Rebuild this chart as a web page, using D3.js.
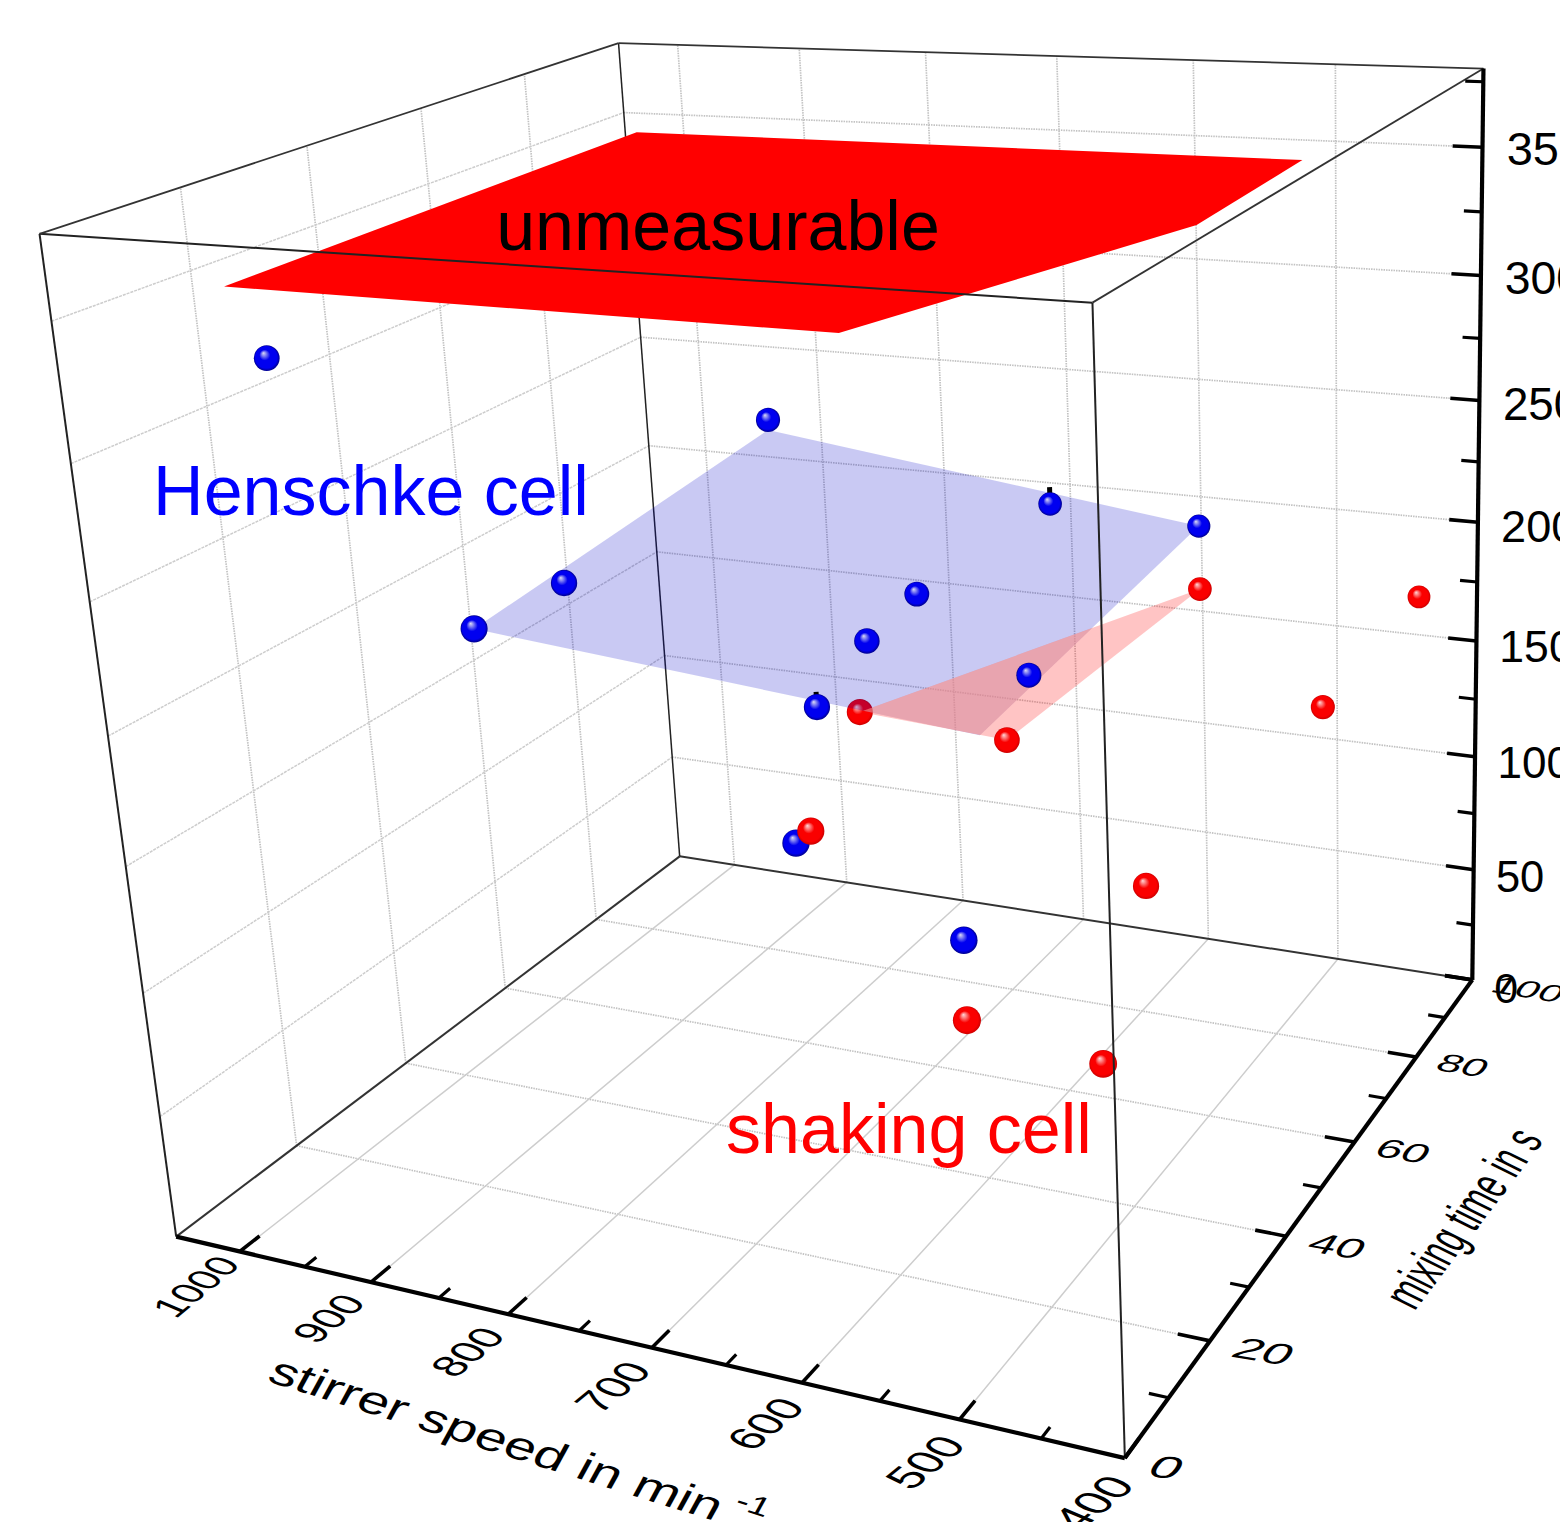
<!DOCTYPE html>
<html>
<head>
<meta charset="utf-8">
<script src="https://cdn.jsdelivr.net/npm/d3@7"></script>
<style>
body { margin: 0; background: #fff; overflow: hidden; }
svg text { font-family: "Liberation Sans", Arial, sans-serif; }
</style>
</head>
<body>
<svg id="chart" width="1560" height="1522"></svg>
<script>
// tick values
var speedTicks = [1000, 900, 800, 700, 600, 500, 400];
var speedMinor = [950, 850, 750, 650, 550, 450];
var timeTicks = [0, 20, 40, 60, 80, 100];
var timeMinor = [10, 30, 50, 70, 90];
var levelTicks = [0, 50, 100, 150, 200, 250, 300, 350];
var levelMinor = [25, 75, 125, 175, 225, 275, 325, 375];

// Henschke cell
var blueSpeed = [1000, 700, 600, 500, 700, 900, 1000, 700, 600, 800, 800, 600];
var blueTime = [20, 32.4, 60, 60, 60.9, 43.7, 49.5, 49.5, 53.6, 66.8, 60.4, 36.6];
var blueLevel = [319.9, 298.2, 242, 239, 199.5, 212.8, 180.4, 195.1, 183, 138, 88.3, 103.4];
var blueStub = [0, 0, 1, 0, 0, 0, 0, 0, 0, 1, 0, 0];

// shaking cell
var redSpeed = [500, 400, 400, 700, 600, 800, 500, 600, 500];
var redTime = [60, 80, 51.1, 47.2, 48, 63.8, 44.8, 36.5, 33.4];
var redLevel = [214.9, 193.4, 188.2, 169.9, 165.1, 88.4, 120.8, 71.6, 70.1];
var redBehind = [0, 0, 0, 1, 0, 0, 0, 0, 0];

// surfaces
var bluePlaneSpeed = [1000, 700, 500, 600];
var bluePlaneTime = [49.5, 32.3, 60, 42];
var bluePlaneLevel = [180.4, 294.7, 239, 175.4];
var redPlaneSpeed = [700, 600, 500];
var redPlaneTime = [47.2, 48, 60];
var redPlaneLevel = [169.9, 165.1, 214.9];
var topPlaneSpeed = [1050.2, 1048, 529, 526, 621];
var topPlaneTime = [24.7, 102, 102.5, 71, 24];
var topPlaneLevel = [340, 340, 340, 340, 340];

// camera, fitted on the eight box corners
var P = [793.1683, 678.41184, -140.7505, 176.20459, 19.91343, -159.87999, -1026.99916, 1236.63744, -0.13822, 0.2574, -0.10329];

var sx = d3.scaleLinear().domain([1050, 400]).range([0, 1]);
var sy = d3.scaleLinear().domain([0, 100]).range([0, 1]);
var sz = d3.scaleLinear().domain([0, 380]).range([0, 1]);

function proj(s, t, z) {
	var X = sx(s), Y = sy(t), Z = sz(z);
	var w = P[8]*X + P[9]*Y + P[10]*Z + 1;
	return [(P[0]*X + P[1]*Y + P[2]*Z + P[3])/w, (P[4]*X + P[5]*Y + P[6]*Z + P[7])/w, w];
}

var svg = d3.select("#chart");
var line = d3.line();
var defs = svg.append("defs");

function gradient(id, mid, edge, light) {
	var g = defs.append("radialGradient").attr("id", id)
		.attr("cx", "0.5").attr("cy", "0.5").attr("r", "0.5")
		.attr("fx", "0.37").attr("fy", "0.3");
	g.append("stop").attr("offset", "0").attr("stop-color", light);
	g.append("stop").attr("offset", "0.42").attr("stop-color", mid);
	g.append("stop").attr("offset", "0.84").attr("stop-color", mid);
	g.append("stop").attr("offset", "1").attr("stop-color", edge);
}
gradient("ballBlue", "#0000f0", "#00008c", "#dcdcf4");
gradient("ballRed", "#fa0000", "#cc0000", "#ffd8d8");

function seg(g, a, b, width, color, dash) {
	g.append("path")
		.attr("d", line([a.slice(0, 2), b.slice(0, 2)]))
		.attr("fill", "none")
		.attr("stroke", color)
		.attr("stroke-width", width)
		.attr("stroke-dasharray", dash || null);
}

var gridColor = "#c2c2c2", dots = "1.5 1", tight = "3 1";
var back = svg.append("g");

// back wall
speedTicks.forEach(function(s) { seg(back, proj(s, 100, 0), proj(s, 100, 380), 1.7, gridColor, dots); });
levelTicks.forEach(function(z) { if (z) seg(back, proj(1050, 100, z), proj(400, 100, z), 1.7, gridColor, dots); });
// left wall
timeTicks.forEach(function(t) { if (t && t < 100) seg(back, proj(1050, t, 0), proj(1050, t, 380), 1.7, gridColor, dots); });
levelTicks.forEach(function(z) { if (z) seg(back, proj(1050, 0, z), proj(1050, 100, z), 1.5, "#cdcdcd", tight); });
// floor
timeTicks.forEach(function(t) { if (t && t < 100) seg(back, proj(1050, t, 0), proj(400, t, 0), 1.7, gridColor, dots); });
speedTicks.forEach(function(s) { if (s > 400) seg(back, proj(s, 0, 0), proj(s, 100, 0), 1.5, "#cdcdcd"); });

// box edges behind the data
seg(back, proj(1050, 0, 0), proj(1050, 100, 0), 2, "#333");
seg(back, proj(1050, 100, 0), proj(400, 100, 0), 2, "#333");
seg(back, proj(1050, 100, 0), proj(1050, 100, 380), 1.5, "#222");

function planePath(speed, time, level) {
	return line(speed.map(function(s, i) {
		return proj(s, time[i], level[i]).slice(0, 2);
	})) + "Z";
}

function polygon(g, speed, time, level, color, opacity) {
	return g.append("path")
		.attr("d", planePath(speed, time, level))
		.attr("fill", color)
		.attr("fill-opacity", opacity);
}

function ballR(c) {
	return 12.06 + 0.00392*c[1] - 0.00211*c[0];
}

function ball(g, s, t, z, id, stub) {
	var c = proj(s, t, z);
	if (stub) {
		seg(g, c, proj(s, t, z + 6.5), 5, "#000");
	}
	g.append("circle")
		.attr("cx", c[0]).attr("cy", c[1])
		.attr("r", ballR(c))
		.attr("fill", "url(#" + id + ")");
}

defs.append("clipPath").attr("id", "inBlue").append("path")
	.attr("d", planePath(bluePlaneSpeed, bluePlaneTime, bluePlaneLevel));

var data = svg.append("g");
polygon(data, topPlaneSpeed, topPlaneTime, topPlaneLevel, "#ff0000", 1);
redSpeed.forEach(function(s, i) { if (redBehind[i]) ball(data, s, redTime[i], redLevel[i], "ballRed"); });
polygon(data, bluePlaneSpeed, bluePlaneTime, bluePlaneLevel, "#0000c8", 0.21);
polygon(data, redPlaneSpeed, redPlaneTime, redPlaneLevel, "#ff0000", 0.23);
// where the two surfaces overlap the original is warmer than plain alpha
polygon(data, redPlaneSpeed, redPlaneTime, redPlaneLevel, "#fbada3", 0.5).attr("clip-path", "url(#inBlue)");
blueSpeed.forEach(function(s, i) { ball(data, s, blueTime[i], blueLevel[i], "ballBlue", blueStub[i]); });
redSpeed.forEach(function(s, i) { if (!redBehind[i]) ball(data, s, redTime[i], redLevel[i], "ballRed"); });

// front edges and axes
var front = svg.append("g");
seg(front, proj(400, 0, 0), proj(400, 0, 380), 2, "#222");
seg(front, proj(1050, 0, 0), proj(1050, 0, 380), 2, "#222");
seg(front, proj(1050, 0, 380), proj(400, 0, 380), 2, "#222");
seg(front, proj(400, 0, 380), proj(400, 100, 380), 1.8, "#333");
seg(front, proj(1050, 0, 380), proj(1050, 100, 380), 1.8, "#333");
seg(front, proj(1050, 100, 380), proj(400, 100, 380), 1.8, "#333");

seg(front, proj(1050, 0, 0), proj(400, 0, 0), 4.2, "#000");
seg(front, proj(400, 0, 0), proj(400, 100, 0), 4.2, "#000");
seg(front, proj(400, 100, 0), proj(400, 100, 380), 4.2, "#000");

speedTicks.forEach(function(s) { seg(front, proj(s, 0, 0), proj(s, 3.2, 0), 3.6, "#000"); });
speedMinor.forEach(function(s) { seg(front, proj(s, 0, 0), proj(s, 1.9, 0), 3.2, "#000"); });
timeTicks.forEach(function(t) { if (t) seg(front, proj(400, t, 0), proj(420, t, 0), 3.6, "#000"); });
timeMinor.forEach(function(t) { seg(front, proj(400, t, 0), proj(412, t, 0), 3.2, "#000"); });
levelTicks.forEach(function(z) { seg(front, proj(400, 100, z), proj(420, 100, z), 3.6, "#000"); });
levelMinor.forEach(function(z) { seg(front, proj(400, 100, z), proj(412, 100, z), 3.2, "#000"); });

// text bent to follow the box
function warp(g, str, c, b, d, size, anchor) {
	return g.append("text")
		.attr("transform", "matrix(" + [b[0], b[1], d[0], d[1], c[0], c[1]].join(",") + ")")
		.attr("text-anchor", anchor || "middle")
		.attr("font-size", size)
		.attr("fill", "#000")
		.text(str);
}

var labels = svg.append("g");
speedTicks.forEach(function(s) {
	var c = proj(s, -7, 0), k = 0.96/c[2];
	warp(labels, s, c, [0.76*k, -0.62*k], [0.95*k, 0.4*k], 40).attr("dy", "0.36em");
});
timeTicks.forEach(function(t) {
	var c = proj(384, t, 0), k = 0.87/c[2];
	warp(labels, t, c, [1.32*k, 0.22*k], [-0.5*k, 0.72*k], 40, "start").attr("dy", "0.36em");
});
levelTicks.forEach(function(z) {
	var c = proj(384, 100, z*1.005);
	labels.append("text")
		.attr("x", c[0]).attr("y", c[1])
		.attr("dy", "0.45em")
		.attr("font-size", 47*1.02/c[2])
		.attr("fill", "#000")
		.text(z);
});

var speedTitle = warp(labels, "stirrer speed in min", proj(716, -20, 0), [1.2, 0.375], [-0.45, 0.82], 44);
speedTitle.append("tspan").attr("font-size", 30).attr("dx", 8).attr("dy", -20).text("-1");
warp(labels, "mixing time in s", proj(295, 48.5, 0), [0.47, -0.62], [1.2, 0.6], 40);

labels.append("text").attr("x", 718).attr("y", 250).attr("text-anchor", "middle")
	.attr("font-size", 70).attr("fill", "#000").text("unmeasurable");
labels.append("text").attr("x", 371).attr("y", 515).attr("text-anchor", "middle")
	.attr("font-size", 70).attr("fill", "#0000ff").text("Henschke cell");
labels.append("text").attr("x", 909).attr("y", 1153).attr("text-anchor", "middle")
	.attr("font-size", 70).attr("fill", "#ff0000").text("shaking cell");
</script>
</body>
</html>
